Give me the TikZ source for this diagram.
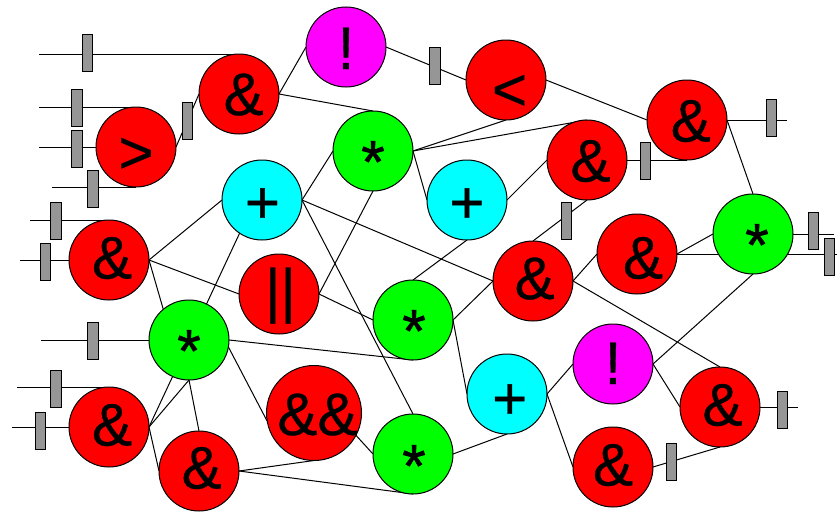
\documentclass[tikz,border=0pt]{standalone}
\usepackage{fontspec}
\setmainfont{Liberation Sans}
\newfontfamily\opfont{Liberation Sans}[FakeBold=0.6]
\newfontfamily\starfont{Liberation Sans}[FakeBold=1.2]
\usetikzlibrary{backgrounds}
\newcommand\gl[3]{\makebox[0pt][c]{\hspace*{#1}\hspace*{#1}\raisebox{#2}[0pt][0pt]{#3}}}
\newcommand\amp[2]{\gl{#1pt}{#2pt}{\&}}
\newcommand\str[2]{\gl{#1pt}{#2pt}{\starfont *}}
\newcommand\pls[2]{\gl{#1pt}{#2pt}{+}}
\definecolor{barg}{RGB}{150,150,150}
\definecolor{opred}{RGB}{255,0,0}
\definecolor{opgreen}{RGB}{0,255,0}
\definecolor{opcyan}{RGB}{0,255,255}
\definecolor{opmag}{RGB}{255,0,255}
\tikzset{
 op/.style={circle,draw=black,line width=1pt,minimum size=80pt,inner sep=0pt,outer sep=0pt,font=\opfont\fontsize{60}{60}\selectfont,text=black},
 rednode/.style={op,fill=opred},
 greennode/.style={op,fill=opgreen},
 cyannode/.style={op,fill=opcyan},
 magnode/.style={op,fill=opmag},
 barnode/.style={rectangle,draw=black,line width=1pt,fill=barg,minimum width=10.5pt,minimum height=37pt,inner sep=0pt,outer sep=0pt},
 wire/.style={draw=black,line width=1pt}
}
\begin{document}
\begin{tikzpicture}[x=1pt,y=-1pt]
\useasboundingbox (0,0) rectangle (837,514);
% operators
\node[magnode] (ex1) at (346,47) {\gl{0pt}{-22pt}{!}};
\node[rednode] (a1) at (239,94) {\amp{4.7}{-21}};
\node[rednode] (gt) at (136,147) {\gl{0pt}{-26pt}{>}};
\node[greennode] (s1) at (373,151) {\str{0}{-31.5}};
\node[cyannode] (p1) at (262,200) {\pls{0.5}{-23}};
\node[rednode] (lt) at (506,80) {\gl{3.5pt}{-30pt}{<}};
\node[rednode] (a2) at (687,120) {\amp{3.8}{-21.5}};
\node[rednode] (a3) at (587,160) {\amp{3.5}{-21.5}};
\node[cyannode] (p2) at (467,200) {\pls{0}{-23}};
\node[greennode] (s2) at (753,234) {\str{4}{-31.5}};
\node[rednode] (a4) at (637,254) {\amp{6}{-24.5}};
\node[rednode] (a5) at (109,260) {\amp{3}{-18.5}};
\node[greennode] (s3) at (189,340) {\str{0}{-31.5}};
\node[rednode] (pp) at (279,294) {\gl{1.5pt}{-17pt}{||}};
\node[rednode] (a6) at (533,281) {\amp{1.7}{-18}};
\node[greennode] (s4) at (413,320) {\str{1}{-31.5}};
\node[cyannode] (p3) at (507,394) {\pls{2.7}{-25}};
\node[magnode] (ex2) at (613,364) {\gl{0pt}{-20pt}{!}};
\node[rednode] (a7) at (720,407) {\amp{2.5}{-18.5}};
\node[rednode] (a8) at (613,467) {\amp{0}{-18.5}};
\node[greennode] (s5) at (413,454) {\str{1}{-32.5}};
\node[rednode,minimum size=95pt] (aa) at (314,413) {\gl{3.5pt}{-22pt}{\&\&}};
\node[rednode] (a9) at (109,427) {\amp{3}{-18.5}};
\node[rednode] (a10) at (199,471) {\amp{2.7}{-17.5}};
% free ends
\coordinate (i1) at (39,54);
\coordinate (i2) at (39,107);
\coordinate (i3) at (39,147);
\coordinate (i4) at (52,187);
\coordinate (i5) at (30,220);
\coordinate (i6) at (20,260);
\coordinate (i7) at (41,340);
\coordinate (i8) at (17,387);
\coordinate (i9) at (12,427);
\coordinate (o1) at (787,120);
\coordinate (o2) at (798,407);
\coordinate (o3) at (834,234);
\coordinate (o4) at (837,254);
\begin{scope}[on background layer]
\draw[wire] (i1) -- (a1.north);
\draw[wire] (i2) -- (gt.north);
\draw[wire] (i3) -- (gt.west);
\draw[wire] (i4) -- (gt.south);
\draw[wire] (gt.east) -- (a1.west);
\draw[wire] (i5) -- (a5.north);
\draw[wire] (i6) -- (a5.west);
\draw[wire] (i7) -- (s3.west);
\draw[wire] (i8) -- (a9.north);
\draw[wire] (i9) -- (a9.west);
\draw[wire] (ex1.east) -- (lt.west);
\draw[wire] (lt.east) -- (a2.west);
\draw[wire] (a2.east) -- (o1);
\draw[wire] (a3.east) -- (a2.south);
\draw[wire] (a2.east) -- (s2.north);
\draw[wire] (a3.south) -- (a6.north);
\draw[wire] (p2.east) -- (a3.west);
\draw[wire] (s1.east) -- (lt.south);
\draw[wire] (s1.east) -- (a3.north);
\draw[wire] (s1.east) -- (p2.west);
\draw[wire] (a1.east) -- (s1.north);
\draw[wire] (a1.east) -- (ex1.west);
\draw[wire] (p1.east) -- (s1.west);
\draw[wire] (s1.south) -- (pp.east);
\draw[wire] (p1.west) -- (a5.east);
\draw[wire] (a9.east) -- (p1.236);
\draw[wire] (a9.east) -- (s3.south);
\draw[wire] (s3.south) -- (a10.north);
\draw[wire] (a9.east) -- (a10.west);
\draw[wire] (a5.east) -- (s3.130);
\draw[wire] (a5.east) -- (pp.west);
\draw[wire] (pp.east) -- (s4.west);
\draw[wire] (s3.east) -- (s4.south);
\draw[wire] (s3.-10) -- (aa.190);
\draw[wire] (aa.-28) -- (s5.west);
\draw[wire] (a10.east) -- (aa.south);
\draw[wire] (a10.east) -- (s5.south);
\draw[wire] (p1.east) -- (s5.north);
\draw[wire] (p1.east) -- (a6.west);
\draw[wire] (s4.north) -- (p2.south);
\draw[wire] (s4.east) -- (a6.west);
\draw[wire] (s4.east) -- (p3.west);
\draw[wire] (s5.east) -- (p3.south);
\draw[wire] (p3.east) -- (ex2.west);
\draw[wire] (p3.east) -- (a8.west);
\draw[wire] (ex2.east) -- (s2.south);
\draw[wire] (ex2.east) -- (a7.west);
\draw[wire] (a6.east) -- (a4.west);
\draw[wire] (a6.east) -- (a7.north);
\draw[wire] (a7.east) -- (o2);
\draw[wire] (a8.east) -- (a7.south);
\draw[wire] (a4.east) -- (s2.west);
\draw[wire] (a4.east) -- (o4);
\draw[wire] (s2.east) -- (o3);
\end{scope}
% gray bars
\node[barnode] (b1) at (87.5,52.5) {};
\node[barnode] (b2) at (77,107.5) {};
\node[barnode] (b3) at (77,149) {};
\node[barnode] (b4) at (93,189) {};
\node[barnode] (b5) at (187.5,120.5) {};
\node[barnode] (b6) at (56,220.5) {};
\node[barnode] (b7) at (45.5,262) {};
\node[barnode] (b8) at (93,341) {};
\node[barnode] (b9) at (56,388.5) {};
\node[barnode] (b10) at (40.5,430.5) {};
\node[barnode] (b11) at (435,65.5) {};
\node[barnode] (b12) at (771.5,118) {};
\node[barnode] (b13) at (645.5,160.5) {};
\node[barnode] (b14) at (566.5,220.5) {};
\node[barnode] (b15) at (782.5,409.5) {};
\node[barnode] (b16) at (671.5,462) {};
\node[barnode] (b17) at (813.5,230.5) {};
\node[barnode] (b18) at (829.5,257) {};
\end{tikzpicture}
\end{document}
